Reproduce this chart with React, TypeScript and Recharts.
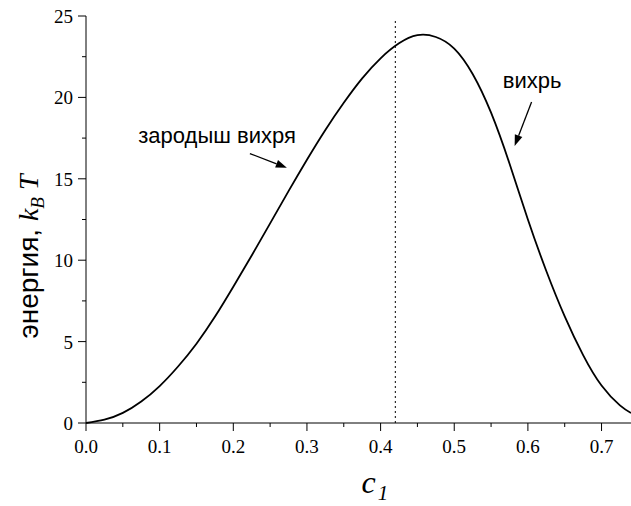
import { LineChart, Line, XAxis, YAxis, ReferenceLine, ReferenceDot } from 'recharts';

// c1 values and energy (in k_B T)
const c1Values = [
  0, 0.025, 0.05, 0.075, 0.1, 0.125, 0.15, 0.175, 0.2, 0.225, 0.25, 0.275, 0.3, 0.325,
  0.35, 0.375, 0.4, 0.425, 0.45, 0.475, 0.5, 0.525, 0.55, 0.575, 0.6, 0.625,
  0.65, 0.675, 0.7, 0.725, 0.74,
];
const energyValues = [
  0, 0.2, 0.62, 1.32, 2.27, 3.47, 4.87, 6.52, 8.37, 10.29, 12.26, 14.24, 16.17, 18.0,
  19.67, 21.17, 22.4, 23.32, 23.82, 23.71, 23.0, 21.44, 19.06, 15.94, 12.5, 9.34,
  6.55, 4.17, 2.3, 1.08, 0.62,
];

const xMajorTicks = [0, 0.1, 0.2, 0.3, 0.4, 0.5, 0.6, 0.7];
const xMinorTicks = [0.05, 0.15, 0.25, 0.35, 0.45, 0.55, 0.65];
const yMajorTicks = [0, 5, 10, 15, 20, 25];
const yMinorTicks = [2.5, 7.5, 12.5, 17.5, 22.5];

const criticalC1 = 0.42;

// annotation anchors in data units
const seedLabel = { text: 'зародыш вихря', x: 0.071, y: 17.2 };
const seedArrow = { from: { x: 0.2225, y: 16.55 }, to: { x: 0.2727, y: 15.68 } };
const vortexLabel = { text: 'вихрь', x: 0.566, y: 20.55 };
const vortexArrow = { from: { x: 0.605, y: 19.72 }, to: { x: 0.582, y: 17.02 } };

const data = c1Values.map((c, i) => ({ c1: c, energy: energyValues[i] }));
const xTicks = [...xMajorTicks, ...xMinorTicks].sort((a, b) => a - b);
const yTicks = [...yMajorTicks, ...yMinorTicks].sort((a, b) => a - b);

const serif = '"Liberation Serif", "Times New Roman", serif';
const sans = '"Liberation Sans", Arial, sans-serif';

const XTick = (props: any) => {
  const { x, y, payload } = props;
  const major = xMajorTicks.includes(payload.value);
  return (
    <g>
      <line x1={x} y1={y} x2={x} y2={y + (major ? 8 : 4)} stroke="#000" strokeWidth={1} />
      {major && (
        <text x={x} y={y + 30} textAnchor="middle" fontFamily={serif} fontSize={19} fill="#000">
          {payload.value.toFixed(1)}
        </text>
      )}
    </g>
  );
};

const YTick = (props: any) => {
  const { x, y, payload } = props;
  const major = yMajorTicks.includes(payload.value);
  return (
    <g>
      <line x1={x} y1={y} x2={x - (major ? 8 : 4)} y2={y} stroke="#000" strokeWidth={1} />
      {major && (
        <text x={x - 13} y={y + 7} textAnchor="end" fontFamily={serif} fontSize={19} fill="#000">
          {payload.value}
        </text>
      )}
    </g>
  );
};

const Arrow = (props: any) => {
  const { x1, y1, x2, y2 } = props;
  const ang = Math.atan2(y2 - y1, x2 - x1);
  const len = 11;
  const w = 4;
  const bx = x2 - len * Math.cos(ang);
  const by = y2 - len * Math.sin(ang);
  const px = -Math.sin(ang) * w;
  const py = Math.cos(ang) * w;
  return (
    <g>
      <line x1={x1} y1={y1} x2={bx} y2={by} stroke="#000" strokeWidth={1.3} />
      <polygon points={`${x2},${y2} ${bx + px},${by + py} ${bx - px},${by - py}`} fill="#000" />
    </g>
  );
};

const textShape = (text: string) => (props: any) => (
  <text x={props.cx} y={props.cy} fontFamily={sans} fontSize={22} fill="#000">
    {text}
  </text>
);

export default function App() {
  return (
    <div style={{ position: 'absolute', left: 0, top: 0, background: '#fff' }}>
      <LineChart width={631} height={506} data={data} margin={{ top: 16, right: 0, bottom: 0, left: 0 }}>
        <XAxis
          dataKey="c1"
          type="number"
          domain={[0, 0.74]}
          ticks={xTicks}
          tick={<XTick />}
          tickLine={false}
          tickSize={0}
          tickMargin={0}
          height={83}
          allowDataOverflow
          axisLine={{ stroke: '#000', strokeWidth: 1 }}
          label={{
            content: (p: any) => {
              const vb = p.viewBox;
              const cx = vb.x + vb.width / 2;
              return (
                <text x={cx + 3} y={vb.y + 70} fontFamily={serif} fontStyle="italic" fontSize={32} fill="#000">
                  c<tspan fontSize={21} dy={7} dx={2}>1</tspan>
                </text>
              );
            },
          }}
        />
        <YAxis
          type="number"
          domain={[0, 25]}
          ticks={yTicks}
          tick={<YTick />}
          tickLine={false}
          tickSize={0}
          tickMargin={0}
          width={86}
          axisLine={{ stroke: '#000', strokeWidth: 1 }}
          label={{
            content: (p: any) => {
              const vb = p.viewBox;
              const cx = 38;
              const cy = vb.y + vb.height / 2 + 37;
              return (
                <text
                  x={cx}
                  y={cy}
                  transform={`rotate(-90 ${cx} ${cy})`}
                  textAnchor="middle"
                  fill="#000"
                  fontSize={28}
                >
                  <tspan fontFamily={sans}>энергия, </tspan>
                  <tspan fontFamily={serif} fontStyle="italic">k</tspan>
                  <tspan fontFamily={serif} fontStyle="italic" fontSize={19} dy={6}>B</tspan>
                  <tspan fontFamily={serif} fontStyle="italic" dy={-6}> T</tspan>
                </text>
              );
            },
          }}
        />
        <ReferenceLine
          segment={[{ x: criticalC1, y: 0 }, { x: criticalC1, y: 24.8 }]}
          stroke="#000"
          strokeWidth={1}
          strokeDasharray="2 3"
        />
        <Line
          type="natural"
          dataKey="energy"
          stroke="#000"
          strokeWidth={1.8}
          dot={false}
          isAnimationActive={false}
        />
        <ReferenceDot x={seedLabel.x} y={seedLabel.y} r={0} shape={textShape(seedLabel.text)} />
        <ReferenceLine segment={[seedArrow.from, seedArrow.to]} shape={<Arrow />} />
        <ReferenceDot x={vortexLabel.x} y={vortexLabel.y} r={0} shape={textShape(vortexLabel.text)} />
        <ReferenceLine segment={[vortexArrow.from, vortexArrow.to]} shape={<Arrow />} />
      </LineChart>
    </div>
  );
}
